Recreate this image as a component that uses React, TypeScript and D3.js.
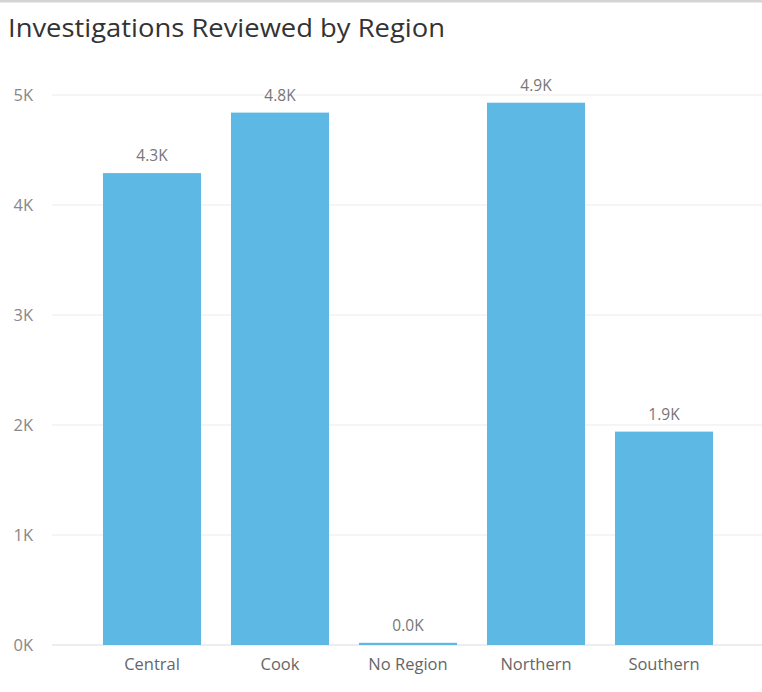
import React, { useEffect } from "react";
import * as d3 from "d3";

const categories = ["Central", "Cook", "No Region", "Northern", "Southern"];
const values = [4290, 4840, 20, 4930, 1940];
const yTicks = [0, 1000, 2000, 3000, 4000, 5000];
const yTickLabels = ["0K", "1K", "2K", "3K", "4K", "5K"];
const dataLabels = ["4.3K", "4.8K", "0.0K", "4.9K", "1.9K"];
const title = "Investigations Reviewed by Region";

const W = 762;
const H = 692;

export default function App() {
  useEffect(() => {
    document.body.style.margin = "0";
  }, []);

  const x = d3
    .scaleBand<string>()
    .domain(categories)
    .range([88, 728])
    .paddingInner(0.234)
    .paddingOuter(0.117);
  const y = d3.scaleLinear().domain([0, 5000]).range([645, 95]);

  const labelFont = "'Open Sans', 'Noto Sans', sans-serif";

  return (
    <svg width={W} height={H} style={{ display: "block", background: "#fff" }}>
      <rect x={0} y={0} width={W} height={2.5} fill="#d4d4d4" />
      <text
        x={8}
        y={37}
        fontFamily={labelFont}
        fontSize={26}
        fill="#333"
        textLength={437}
        lengthAdjust="spacingAndGlyphs"
      >
        {title}
      </text>
      {yTicks.map((t, i) => (
        <g key={t}>
          <line
            x1={52}
            x2={W}
            y1={y(t)}
            y2={y(t)}
            stroke={t === 0 ? "#dcdcdc" : "#ececec"}
            strokeWidth={1.2}
          />
          <text
            x={33}
            y={y(t)}
            dy="0.35em"
            textAnchor="end"
            fontFamily={labelFont}
            fontSize={16.5}
            fill="#888"
          >
            {yTickLabels[i]}
          </text>
        </g>
      ))}
      {categories.map((c, i) => {
        const bx = x(c) as number;
        const top = y(values[i]);
        return (
          <g key={c}>
            <rect
              x={bx}
              y={Math.min(top, 643)}
              width={x.bandwidth()}
              height={y(0) - Math.min(top, 643)}
              fill="#5db8e3"
            />
            <text
              x={bx + x.bandwidth() / 2}
              y={Math.min(top, 643) - 12}
              textAnchor="middle"
              fontFamily={labelFont}
              fontSize={15.5}
              fill="#777"
            >
              {dataLabels[i]}
            </text>
            <text
              x={bx + x.bandwidth() / 2}
              y={670}
              textAnchor="middle"
              fontFamily={labelFont}
              fontSize={16.5}
              fill="#666"
            >
              {c}
            </text>
          </g>
        );
      })}
    </svg>
  );
}
